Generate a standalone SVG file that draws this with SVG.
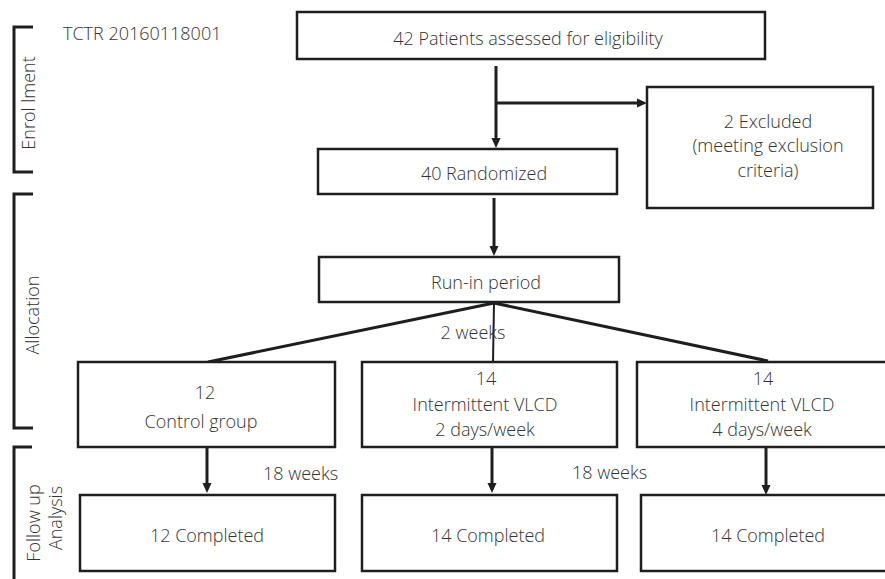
<svg xmlns="http://www.w3.org/2000/svg" width="885" height="579" viewBox="0 0 885 579">
<style>
  .box { fill: #ffffff; stroke: #1e1e1e; stroke-width: 2.5; }
  .t { font-family: "Open Sans", "Liberation Sans", sans-serif; font-weight: 300; font-size: 18px; fill: #333333; }
  .c { text-anchor: middle; }
  .ln { stroke: #1e1e1e; stroke-width: 3; fill: none; }
  .thin { stroke: #1e1e1e; stroke-width: 2; fill: none; }
  .br { stroke: #1e1e1e; stroke-width: 3; fill: none; }
</style>
<defs>
  <marker id="arr" viewBox="0 0 10 10" markerUnits="userSpaceOnUse" markerWidth="10" markerHeight="10" refX="2" refY="5" orient="auto">
    <path d="M0,0.5 L10,5 L0,9.5 z" fill="#1e1e1e"/>
  </marker>
</defs>
<rect width="885" height="579" fill="#ffffff"/>

<g id="phase-labels">
  <path class="br" d="M33,27 H14 V172 H33"/>
  <path class="br" d="M33,194 H14 V428 H33"/>
  <path class="br" d="M32,447 H14 V581"/>
  <text class="t c" transform="translate(35,103) rotate(-90)">Enrol lment</text>
  <text class="t c" transform="translate(39,315) rotate(-90)">Allocation</text>
  <text class="t c" transform="translate(40,523) rotate(-90)">Follow up</text>
  <text class="t c" transform="translate(62,518) rotate(-90)">Analysis</text>
  <text class="t" x="63" y="40">TCTR 20160118001</text>
</g>

<g id="connectors">
  <line class="ln" x1="496" y1="66" x2="496" y2="140" marker-end="url(#arr)"/>
  <line class="ln" x1="496" y1="103" x2="639" y2="103" marker-end="url(#arr)"/>
  <line class="ln" x1="494" y1="198" x2="494" y2="248" marker-end="url(#arr)"/>
  <line class="ln" x1="494" y1="303" x2="208" y2="362"/>
  <line class="thin" x1="494" y1="303" x2="493" y2="362"/>
  <line class="ln" x1="494" y1="303" x2="768" y2="361"/>
  <line class="ln" x1="207" y1="447" x2="207" y2="485" marker-end="url(#arr)"/>
  <line class="ln" x1="492" y1="447" x2="492" y2="485" marker-end="url(#arr)"/>
  <line class="ln" x1="766" y1="447" x2="766" y2="487" marker-end="url(#arr)"/>
  <text class="t c" x="473" y="339">2 weeks</text>
  <text class="t" x="263" y="480">18 weeks</text>
  <text class="t" x="572" y="479">18 weeks</text>
</g>

<g id="assessed">
  <rect class="box" x="297" y="12" width="468" height="47"/>
  <text class="t c" x="528" y="45">42 Patients assessed for eligibility</text>
</g>

<g id="excluded">
  <rect class="box" x="647" y="87" width="226" height="121"/>
  <text class="t c" x="768" y="128">2 Excluded</text>
  <text class="t c" x="768" y="152">(meeting exclusion</text>
  <text class="t c" x="768" y="177">criteria)</text>
</g>

<g id="randomized">
  <rect class="box" x="318" y="149" width="299" height="45"/>
  <text class="t c" x="484" y="180">40 Randomized</text>
</g>

<g id="runin">
  <rect class="box" x="319" y="257" width="300" height="45"/>
  <text class="t c" x="486" y="289">Run-in period</text>
</g>

<g id="control">
  <rect class="box" x="78" y="362" width="257" height="85"/>
  <text class="t c" x="205" y="399">12</text>
  <text class="t c" x="201" y="428">Control group</text>
</g>

<g id="vlcd2">
  <rect class="box" x="362" y="362" width="255" height="85"/>
  <text class="t c" x="486" y="385">14</text>
  <text class="t c" x="485" y="411">Intermittent VLCD</text>
  <text class="t c" x="485" y="436">2 days/week</text>
</g>

<g id="vlcd4">
  <rect class="box" x="637" y="362" width="252" height="85"/>
  <text class="t c" x="763" y="385">14</text>
  <text class="t c" x="762" y="411">Intermittent VLCD</text>
  <text class="t c" x="762" y="436">4 days/week</text>
</g>

<g id="completed-control">
  <rect class="box" x="80" y="495" width="255" height="76"/>
  <text class="t c" x="207" y="542">12 Completed</text>
</g>

<g id="completed-vlcd2">
  <rect class="box" x="362" y="495" width="255" height="76"/>
  <text class="t c" x="488" y="542">14 Completed</text>
</g>

<g id="completed-vlcd4">
  <rect class="box" x="641" y="495" width="248" height="76"/>
  <text class="t c" x="768" y="542">14 Completed</text>
</g>
</svg>
